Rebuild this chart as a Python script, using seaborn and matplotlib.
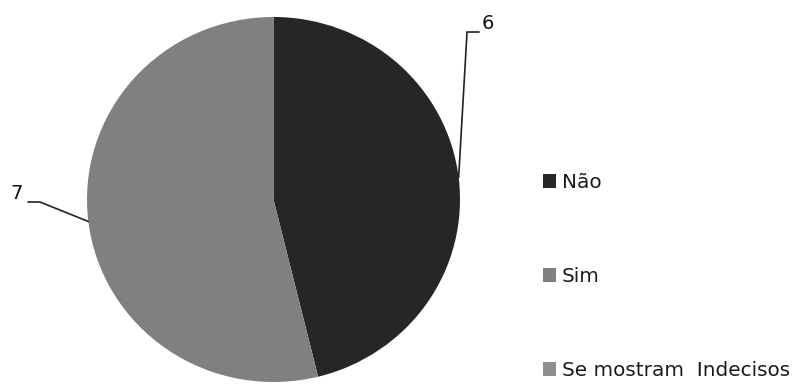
import numpy as np
import matplotlib
matplotlib.use("Agg")
import matplotlib.pyplot as plt
import seaborn as sns

categories = ["Não", "Sim", "Se mostram  Indecisos"]
values = [6, 7, 0]
colors = ["#262626", "#808080", "#8e8e8e"]

sns.set_theme(style="white")
plt.rcParams['font.family'] = ['DejaVu Sans']

W, H = 792, 387
fig = plt.figure(figsize=(W / 100, H / 100), dpi=100)
ax = fig.add_axes([0, 0, 1, 1])

RX, RY = 186.5, 182.5
cx, cy = 273.5, 199.5

wedges, _ = ax.pie(values, colors=colors, startangle=90, counterclock=False,
                   radius=1.0, wedgeprops=dict(linewidth=0))
ax.set_xlim(-cx / RX, (W - cx) / RX)
ax.set_ylim(-(H - cy) / RY, cy / RY)
ax.set_aspect("auto")
ax.axis("off")

# leader lines and labels, positioned from each wedge's mid angle (pixel offsets)
offsets = {0: ((8.4, 145.5), 12), 1: ((-48.4, 19.5), -12)}
for i, w in enumerate(wedges):
    if values[i] == 0:
        continue
    mid = np.deg2rad((w.theta1 + w.theta2) / 2)
    ex, ey = np.cos(mid), np.sin(mid)
    (dx, dy), hx = offsets[i]
    bx, by = ex + dx / RX, ey + dy / RY
    fx = bx + hx / RX
    ax.plot([ex, bx, fx], [ey, by, by], color="#222222", lw=1.2,
            solid_joinstyle="miter")
    if hx > 0:
        ax.text(fx + 3 / RX, by - 1 / RY, str(values[i]), ha="left",
                va="bottom", fontsize=14, color="#111111")
    else:
        ax.text(fx - 5 / RX, by - 1 / RY, str(values[i]), ha="right",
                va="bottom", fontsize=14, color="#111111")

leg = ax.legend(wedges, categories, loc="upper left",
                bbox_to_anchor=(543 / W, 1 - 173 / H), frameon=False,
                fontsize=14.4, labelspacing=3.75, handlelength=0.65,
                handleheight=0.65, handletextpad=0.3, borderaxespad=0,
                borderpad=0)
for t in leg.get_texts():
    t.set_color("#1a1a1a")

fig.savefig("out.png", dpi=100)
